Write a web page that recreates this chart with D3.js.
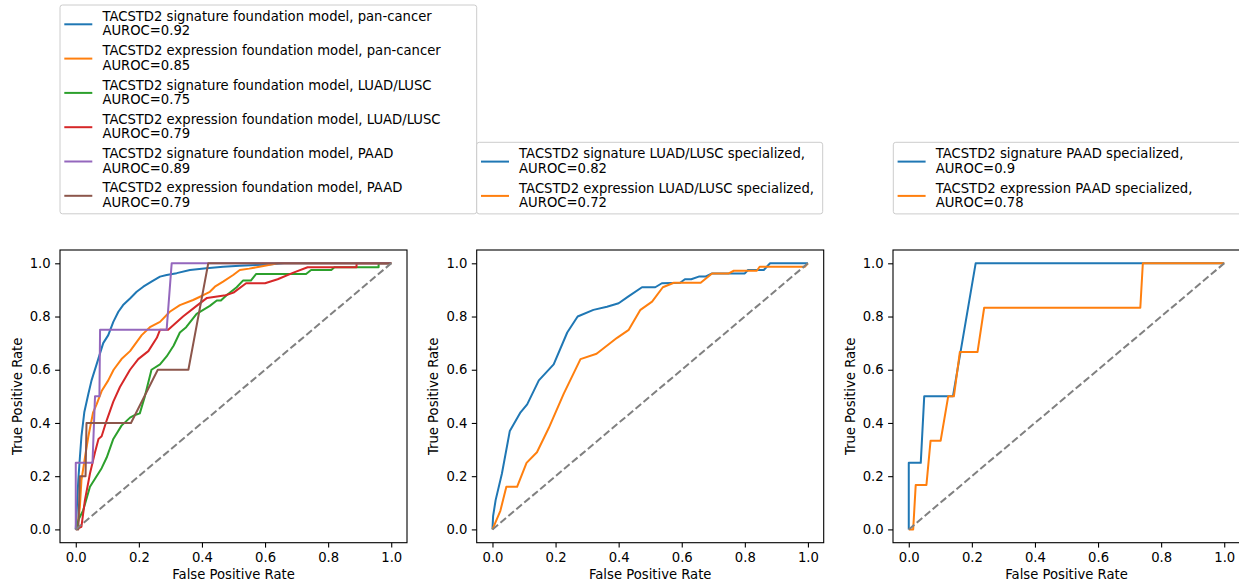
<!DOCTYPE html>
<html>
<head>
<meta charset="utf-8">
<script src="https://cdn.jsdelivr.net/npm/d3@7"></script>
<style>
  body { margin: 0; background: #fff; }
  svg { display: block; font-family: "DejaVu Sans", sans-serif; }
</style>
</head>
<body>
<svg width="1239" height="584"></svg>
<script>
// ---- data ----
const ticks = [0, 0.2, 0.4, 0.6, 0.8, 1.0];

// panel 1: foundation models
const sigPanFpr = [0, 0.002, 0.008, 0.013, 0.018, 0.027, 0.04, 0.05, 0.066, 0.087, 0.103, 0.119, 0.135, 0.15, 0.172, 0.193, 0.214, 0.24, 0.267, 0.288, 0.32, 0.362, 0.414, 0.467, 0.52, 0.6, 0.66, 1.0];
const sigPanTpr = [0, 0.05, 0.185, 0.27, 0.35, 0.44, 0.51, 0.56, 0.62, 0.70, 0.73, 0.78, 0.818, 0.843, 0.868, 0.893, 0.912, 0.931, 0.95, 0.956, 0.963, 0.975, 0.981, 0.987, 0.991, 0.995, 1.0, 1.0];

const exprPanFpr = [0, 0.006, 0.013, 0.018, 0.029, 0.04, 0.055, 0.066, 0.082, 0.103, 0.12, 0.145, 0.172, 0.209, 0.235, 0.267, 0.298, 0.33, 0.372, 0.404, 0.425, 0.441, 0.467, 0.499, 0.52, 0.55, 0.595, 0.64, 1.0];
const exprPanTpr = [0, 0.01, 0.085, 0.185, 0.27, 0.35, 0.44, 0.47, 0.52, 0.56, 0.60, 0.64, 0.67, 0.73, 0.76, 0.78, 0.818, 0.843, 0.862, 0.88, 0.893, 0.912, 0.931, 0.956, 0.975, 0.98, 0.99, 1.0, 1.0];

const sigLuadFpr = [0, 0.01, 0.023, 0.045, 0.061, 0.082, 0.098, 0.119, 0.145, 0.172, 0.188, 0.203, 0.219, 0.24, 0.267, 0.288, 0.31, 0.33, 0.35, 0.383, 0.425, 0.447, 0.46, 0.478, 0.51, 0.53, 0.555, 0.572, 0.73, 0.746, 0.81, 0.82, 0.96, 0.96, 1.0];
const sigLuadTpr = [0, 0.04, 0.07, 0.16, 0.19, 0.23, 0.27, 0.34, 0.39, 0.42, 0.43, 0.436, 0.50, 0.60, 0.62, 0.65, 0.69, 0.74, 0.76, 0.81, 0.84, 0.86, 0.86, 0.88, 0.91, 0.935, 0.935, 0.96, 0.96, 0.975, 0.975, 0.985, 0.985, 1.0, 1.0];

const exprLuadFpr = [0, 0.018, 0.029, 0.045, 0.061, 0.072, 0.082, 0.098, 0.119, 0.14, 0.172, 0.198, 0.23, 0.257, 0.267, 0.293, 0.34, 0.383, 0.416, 0.475, 0.50, 0.54, 0.60, 0.64, 0.69, 0.735, 0.89, 0.89, 1.0];
const exprLuadTpr = [0, 0.01, 0.11, 0.21, 0.29, 0.34, 0.35, 0.41, 0.48, 0.535, 0.60, 0.64, 0.67, 0.72, 0.75, 0.75, 0.80, 0.84, 0.87, 0.88, 0.89, 0.925, 0.925, 0.94, 0.965, 0.985, 0.985, 1.0, 1.0];

const sigPaadFpr = [0, 0, 0.053, 0.061, 0.075, 0.077, 0.288, 0.304, 1.0];
const sigPaadTpr = [0, 0.25, 0.25, 0.5, 0.5, 0.75, 0.75, 1.0, 1.0];

const exprPaadFpr = [0, 0.008, 0.013, 0.031, 0.034, 0.175, 0.26, 0.357, 0.42, 1.0];
const exprPaadTpr = [0, 0, 0.2, 0.2, 0.4, 0.4, 0.6, 0.6, 1.0, 1.0];

// panel 2: LUAD/LUSC specialized
const sigLuadSpecFpr = [0, 0.002, 0.01, 0.03, 0.055, 0.089, 0.11, 0.147, 0.194, 0.237, 0.27, 0.32, 0.363, 0.40, 0.43, 0.474, 0.516, 0.537, 0.595, 0.61, 0.63, 0.654, 0.675, 0.696, 0.80, 0.81, 0.86, 0.88, 1.0];
const sigLuadSpecTpr = [0, 0.05, 0.11, 0.21, 0.37, 0.44, 0.47, 0.56, 0.62, 0.74, 0.80, 0.825, 0.837, 0.85, 0.875, 0.91, 0.91, 0.925, 0.927, 0.94, 0.94, 0.95, 0.95, 0.962, 0.962, 0.975, 0.975, 1.0, 1.0];

const exprLuadSpecFpr = [0, 0.025, 0.044, 0.078, 0.108, 0.141, 0.178, 0.226, 0.279, 0.33, 0.395, 0.432, 0.469, 0.506, 0.54, 0.575, 0.66, 0.696, 0.749, 0.765, 0.838, 0.847, 0.99, 1.0];
const exprLuadSpecTpr = [0, 0.07, 0.16, 0.16, 0.25, 0.29, 0.38, 0.51, 0.64, 0.66, 0.72, 0.75, 0.825, 0.856, 0.91, 0.927, 0.927, 0.962, 0.962, 0.972, 0.972, 0.987, 0.987, 1.0];

// panel 3: PAAD specialized
const sigPaadSpecFpr = [0, 0, 0.038, 0.049, 0.14, 0.212, 1.0];
const sigPaadSpecTpr = [0, 0.25, 0.25, 0.5, 0.5, 1.0, 1.0];

const exprPaadSpecFpr = [0, 0.014, 0.022, 0.056, 0.069, 0.101, 0.125, 0.143, 0.162, 0.218, 0.239, 0.734, 0.742, 1.0];
const exprPaadSpecTpr = [0, 0, 0.167, 0.167, 0.333, 0.333, 0.5, 0.5, 0.667, 0.667, 0.833, 0.833, 1.0, 1.0];

const names1 = [
  "TACSTD2 signature foundation model, pan-cancer",
  "TACSTD2 expression foundation model, pan-cancer",
  "TACSTD2 signature foundation model, LUAD/LUSC",
  "TACSTD2 expression foundation model, LUAD/LUSC",
  "TACSTD2 signature foundation model, PAAD",
  "TACSTD2 expression foundation model, PAAD"
];
const auroc1 = ["0.92", "0.85", "0.75", "0.79", "0.89", "0.79"];
const names2 = ["TACSTD2 signature LUAD/LUSC specialized,", "TACSTD2 expression LUAD/LUSC specialized,"];
const auroc2 = ["0.82", "0.72"];
const names3 = ["TACSTD2 signature PAAD specialized,", "TACSTD2 expression PAAD specialized,"];
const auroc3 = ["0.9", "0.78"];

const colors = ["#1f77b4", "#ff7f0e", "#2ca02c", "#d62728", "#9467bd", "#8c564b"];

const zip = (xs, ys) => xs.map((x, i) => [x, ys[i]]);

// ---- layout ----
const svg = d3.select("svg");
svg.append("rect").attr("width", 1239).attr("height", 584).attr("fill", "#fff");

const axTop = 250, axH = 292.7, axW = 347;
const fontSize = 13.2;

function drawPanel(left, curves) {
  const x = d3.scaleLinear().domain([-0.05, 1.05]).range([0, axW]);
  const y = d3.scaleLinear().domain([-0.05, 1.05]).range([axH, 0]);

  const g = svg.append("g").attr("transform", `translate(${left}, ${axTop})`);

  const line = d3.line().x(d => x(d[0])).y(d => y(d[1]));

  curves.forEach((c, i) => {
    g.append("path")
      .attr("d", line(c))
      .attr("fill", "none")
      .attr("stroke", colors[i])
      .attr("stroke-width", 2)
      .attr("stroke-linejoin", "round")
      .attr("stroke-linecap", "butt");
  });

  g.append("path")
    .attr("d", line([[0, 0], [1, 1]]))
    .attr("fill", "none")
    .attr("stroke", "#808080")
    .attr("stroke-width", 2)
    .attr("stroke-dasharray", "7.3,3.1");

  const xAxis = d3.axisBottom(x).tickValues(ticks).tickFormat(d3.format(".1f"))
    .tickSize(4.9).tickPadding(4.9);
  const gx = g.append("g").attr("transform", `translate(0, ${axH})`).call(xAxis);

  const yAxis = d3.axisLeft(y).tickValues(ticks).tickFormat(d3.format(".1f"))
    .tickSize(4.9).tickPadding(4.4);
  const gy = g.append("g").call(yAxis);

  [gx, gy].forEach(a => {
    a.attr("font-family", "DejaVu Sans").attr("font-size", fontSize);
    a.select(".domain").remove();
    a.selectAll(".tick line").attr("stroke", "#000").attr("stroke-width", 1.1);
    a.selectAll(".tick text").attr("fill", "#000");
  });

  g.append("rect")
    .attr("width", axW).attr("height", axH)
    .attr("fill", "none").attr("stroke", "#000").attr("stroke-width", 1.1);

  g.append("text")
    .attr("x", axW / 2).attr("y", axH + 36.3)
    .attr("text-anchor", "middle")
    .attr("font-size", fontSize)
    .text("False Positive Rate");

  g.append("text")
    .attr("transform", `translate(-38.5, ${axH / 2}) rotate(-90)`)
    .attr("text-anchor", "middle")
    .attr("font-size", fontSize)
    .text("True Positive Rate");
}

function drawLegend(left, top, right, names, aurocs) {
  const bottom = top + 19.3 + 34.3 * (names.length - 1) + 18;
  const lg = svg.append("g");
  lg.append("rect")
    .attr("x", left).attr("y", top)
    .attr("width", right - left).attr("height", bottom - top)
    .attr("rx", 2.5)
    .attr("fill", "#fff").attr("fill-opacity", 0.8)
    .attr("stroke", "#cccccc").attr("stroke-width", 1);

  names.forEach((n, i) => {
    const cy = top + 19.3 + 34.3 * i;
    lg.append("line")
      .attr("x1", left + 4.3).attr("x2", left + 32.3)
      .attr("y1", cy).attr("y2", cy)
      .attr("stroke", colors[i]).attr("stroke-width", 2);
    const t = lg.append("text")
      .attr("x", left + 42.4).attr("y", cy - 3.4)
      .attr("font-size", fontSize);
    t.append("tspan").attr("x", left + 42.4).text(n);
    t.append("tspan").attr("x", left + 42.4).attr("y", cy + 11).text("AUROC=" + aurocs[i]);
  });
}

drawPanel(60, [
  zip(sigPanFpr, sigPanTpr), zip(exprPanFpr, exprPanTpr),
  zip(sigLuadFpr, sigLuadTpr), zip(exprLuadFpr, exprLuadTpr),
  zip(sigPaadFpr, sigPaadTpr), zip(exprPaadFpr, exprPaadTpr)
]);
drawPanel(476.7, [zip(sigLuadSpecFpr, sigLuadSpecTpr), zip(exprLuadSpecFpr, exprLuadSpecTpr)]);
drawPanel(893, [zip(sigPaadSpecFpr, sigPaadSpecTpr), zip(exprPaadSpecFpr, exprPaadSpecTpr)]);

drawLegend(60, 5, 476.7, names1, auroc1);
drawLegend(476.7, 142.3, 822.7, names2, auroc2);
drawLegend(893.3, 142.3, 1245, names3, auroc3);
</script>
</body>
</html>
